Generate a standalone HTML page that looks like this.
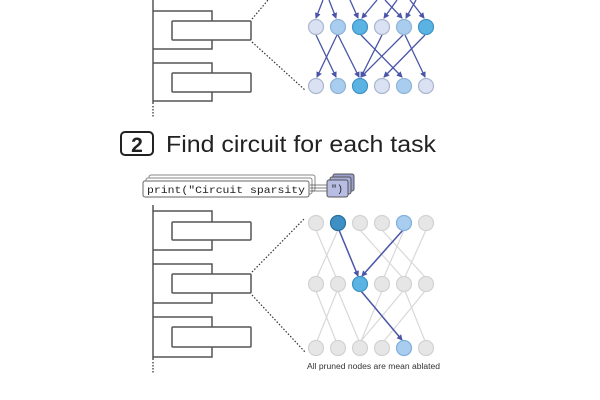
<!DOCTYPE html>
<html><head><meta charset="utf-8"><style>
html,body{margin:0;padding:0;background:#fff;}
svg{display:block}
</style></head><body>
<svg width="600" height="400" viewBox="0 0 600 400" xmlns="http://www.w3.org/2000/svg">
<defs>
<marker id="ar" markerWidth="6" markerHeight="6" refX="5" refY="3" orient="auto" markerUnits="userSpaceOnUse"><path d="M0,0 L6,3 L0,6 Z" fill="#4a55a8"/></marker>
</defs>
<g fill="none" stroke="#555" stroke-width="1.5">
<!-- top tree -->
<line x1="153" y1="0" x2="153" y2="104"/>
<polyline points="153,11 212,11 212,49 153,49"/>
<rect x="172" y="21" width="79" height="19" rx="1" fill="#fff"/>
<polyline points="153,63 212,63 212,101 153,101"/>
<rect x="172" y="73" width="79" height="19" rx="1" fill="#fff"/>
<line x1="153" y1="106" x2="153" y2="118" stroke-dasharray="1.5,1.5"/>
<!-- bottom tree -->
<line x1="153" y1="205" x2="153" y2="360"/>
<polyline points="153,211 212,211 212,250 153,250"/>
<rect x="172" y="222" width="79" height="18" rx="1" fill="#fff"/>
<polyline points="153,264 212,264 212,303 153,303"/>
<rect x="172" y="274" width="79" height="19" rx="1" fill="#fff"/>
<polyline points="153,317 212,317 212,357 153,357"/>
<rect x="172" y="327" width="79" height="20" rx="1" fill="#fff"/>
<line x1="153" y1="362" x2="153" y2="373" stroke-dasharray="1.5,1.5"/>
</g>
<g stroke="#333" stroke-width="1.2" stroke-dasharray="1.5,1.8" fill="none">
<line x1="252" y1="19" x2="268" y2="0"/>
<line x1="252" y1="42" x2="305" y2="90"/>
<line x1="252" y1="272" x2="305" y2="218"/>
<line x1="252" y1="295" x2="305" y2="352"/>
</g>
<!-- top edges -->
<g stroke="#4a55a8" stroke-width="1.3" fill="none" marker-end="url(#ar)">
<line x1="323" y1="0" x2="316" y2="18"/>
<line x1="329" y1="0" x2="336" y2="18"/>
<line x1="350" y1="0" x2="358" y2="18"/>
<line x1="377" y1="0" x2="362" y2="18"/>
<line x1="385" y1="0" x2="402" y2="18"/>
<line x1="397" y1="0" x2="384" y2="18"/>
<line x1="410" y1="0" x2="424" y2="18"/>
<line x1="416" y1="0" x2="406" y2="18"/>
<line x1="316" y1="35" x2="336" y2="77"/>
<line x1="337" y1="35" x2="317" y2="77"/>
<line x1="338" y1="35" x2="359" y2="77"/>
<line x1="382" y1="35" x2="361" y2="77"/>
<line x1="403" y1="35" x2="361" y2="77"/>
<line x1="361" y1="35" x2="402" y2="77"/>
<line x1="425" y1="35" x2="384" y2="77"/>
<line x1="405" y1="35" x2="425" y2="77"/>
</g>
<g stroke-width="1.2">
<circle cx="316" cy="27" r="7.5" fill="#d9e1f2" stroke="#a9b7cf"/>
<circle cx="338" cy="27" r="7.5" fill="#a9cdee" stroke="#8fb3d6"/>
<circle cx="360" cy="27" r="7.5" fill="#5bb3e3" stroke="#3f94c5"/>
<circle cx="382" cy="27" r="7.5" fill="#d9e1f2" stroke="#a9b7cf"/>
<circle cx="404" cy="27" r="7.5" fill="#a9cdee" stroke="#8fb3d6"/>
<circle cx="426" cy="27" r="7.5" fill="#5bb3e3" stroke="#3f94c5"/>
<circle cx="316" cy="86" r="7.5" fill="#d9e1f2" stroke="#a9b7cf"/>
<circle cx="338" cy="86" r="7.5" fill="#a9cdee" stroke="#8fb3d6"/>
<circle cx="360" cy="86" r="7.5" fill="#5bb3e3" stroke="#3f94c5"/>
<circle cx="382" cy="86" r="7.5" fill="#d9e1f2" stroke="#a9b7cf"/>
<circle cx="404" cy="86" r="7.5" fill="#a9cdee" stroke="#8fb3d6"/>
<circle cx="426" cy="86" r="7.5" fill="#d9e1f2" stroke="#a9b7cf"/>
</g>
<!-- heading -->
<rect x="121" y="132" width="32" height="23" rx="4" fill="none" stroke="#222" stroke-width="2"/>
<text x="137" y="152" font-family="Liberation Sans, sans-serif" font-size="21" font-weight="bold" text-anchor="middle" fill="#222">2</text>
<text x="166" y="152" font-family="Liberation Sans, sans-serif" font-size="23.5" fill="#222" textLength="270" lengthAdjust="spacingAndGlyphs">Find circuit for each task</text>
<!-- code box -->
<g stroke="#888" stroke-width="1" fill="#fff">
<rect x="149" y="175" width="166" height="16" rx="2"/>
<rect x="146" y="178" width="166" height="16" rx="2"/>
<rect x="143" y="181" width="166" height="16" rx="2" stroke="#666"/>
</g>
<text x="147" y="193" font-family="Liberation Mono, monospace" font-size="10.5" fill="#222" textLength="158" lengthAdjust="spacingAndGlyphs">print("Circuit sparsity</text>
<g stroke="#555" stroke-width="0.8"><line x1="310" y1="185" x2="327" y2="185"/><line x1="310" y1="188" x2="327" y2="188"/><line x1="310" y1="191" x2="327" y2="191"/></g>
<g stroke="#555" stroke-width="1">
<rect x="333" y="174" width="21" height="17" rx="2" fill="#9aa0cf"/>
<rect x="330" y="177" width="21" height="17" rx="2" fill="#a9aed8"/>
<rect x="327" y="180" width="21" height="17" rx="2" fill="#b8bde3"/>
</g>
<text x="331" y="192" font-family="Liberation Mono, monospace" font-size="10" fill="#222">")</text>
<!-- bottom grey edges -->
<g stroke="#d8d8d8" stroke-width="1.2" fill="none">
<line x1="316" y1="230" x2="336" y2="277"/>
<line x1="338" y1="230" x2="317" y2="277"/>
<line x1="360" y1="230" x2="402" y2="277"/>
<line x1="382" y1="230" x2="425" y2="277"/>
<line x1="404" y1="230" x2="384" y2="277"/>
<line x1="426" y1="230" x2="405" y2="277"/>
<line x1="316" y1="291" x2="336" y2="341"/>
<line x1="337" y1="291" x2="317" y2="341"/>
<line x1="338" y1="291" x2="359" y2="341"/>
<line x1="382" y1="291" x2="361" y2="341"/>
<line x1="403" y1="291" x2="361" y2="341"/>
<line x1="425" y1="291" x2="384" y2="341"/>
<line x1="405" y1="291" x2="425" y2="341"/>
</g>
<g stroke="#4a55a8" stroke-width="1.5" fill="none">
<line x1="339" y1="230" x2="358" y2="276" marker-end="url(#ar)"/>
<line x1="403" y1="230" x2="362" y2="276" marker-end="url(#ar)"/>
<line x1="361" y1="291" x2="402" y2="340" marker-end="url(#ar)"/>
</g>
<g stroke-width="1.2" fill="#e6e6e6" stroke="#d2d2d2">
<circle cx="316" cy="223" r="7.5"/>
<circle cx="338" cy="223" r="7.5" fill="#3d8fc4" stroke="#2a6f9e"/>
<circle cx="360" cy="223" r="7.5"/>
<circle cx="382" cy="223" r="7.5"/>
<circle cx="404" cy="223" r="7.5" fill="#a9cdee" stroke="#7fb0dc"/>
<circle cx="426" cy="223" r="7.5"/>
<circle cx="316" cy="284" r="7.5"/>
<circle cx="338" cy="284" r="7.5"/>
<circle cx="360" cy="284" r="7.5" fill="#5bb3e3" stroke="#3f94c5"/>
<circle cx="382" cy="284" r="7.5"/>
<circle cx="404" cy="284" r="7.5"/>
<circle cx="426" cy="284" r="7.5"/>
<circle cx="316" cy="348" r="7.5"/>
<circle cx="338" cy="348" r="7.5"/>
<circle cx="360" cy="348" r="7.5"/>
<circle cx="382" cy="348" r="7.5"/>
<circle cx="404" cy="348" r="7.5" fill="#a9cdee" stroke="#7fb0dc"/>
<circle cx="426" cy="348" r="7.5"/>
</g>
<text x="307" y="369" font-family="Liberation Sans, sans-serif" font-size="8" fill="#333" textLength="133" lengthAdjust="spacingAndGlyphs">All pruned nodes are mean ablated</text>
</svg>
</body></html>
